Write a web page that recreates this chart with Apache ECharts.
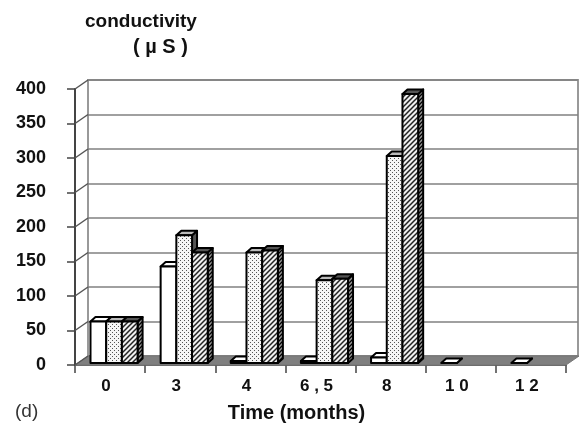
<!DOCTYPE html>
<html><head><meta charset="utf-8">
<style>html,body{margin:0;padding:0;background:#fff}#c{width:586px;height:425px}</style>
<script src="https://cdn.jsdelivr.net/npm/echarts@6/dist/echarts.min.js"></script>
</head><body><div id="c"></div>
<script>
const categories = ['0','3','4','6 , 5','8','1 0','1 2'];
const plainValues  = [60,140,3,3,8,0,0];
const dottedValues = [60,185,160,120,300,null,null];
const hatchedValues= [60,160,163,122,390,null,null];
const yTicks = [0,50,100,150,200,250,300,350,400];

function pat(size,draw){const c=document.createElement('canvas');c.width=c.height=size;const g=c.getContext('2d');draw(g);return {image:c,repeat:'repeat'};}
const dots = pat(4,g=>{g.fillStyle='#f6f6f6';g.fillRect(0,0,4,4);g.fillStyle='#555';g.fillRect(0,0,1,1);g.fillRect(2,2,1,1);});
const hatch = pat(5,g=>{g.fillStyle='#f0f0f0';g.fillRect(0,0,5,5);g.strokeStyle='#222';g.lineWidth=1.5;g.beginPath();g.moveTo(-1,6);g.lineTo(6,-1);g.moveTo(-1,1);g.lineTo(1,-1);g.moveTo(4,6);g.lineTo(6,4);g.stroke();});
const hatchDark = pat(4,g=>{g.fillStyle='#999';g.fillRect(0,0,4,4);g.strokeStyle='#000';g.lineWidth=1.3;g.beginPath();g.moveTo(-1,5);g.lineTo(5,-1);g.moveTo(-1,1);g.lineTo(1,-1);g.moveTo(3,5);g.lineTo(5,3);g.stroke();});

const DX=13,DY=-9,BW=15.7,BD=5,BH=-4.5,START=15.5;
function barItem(idx,front,top,side){
  return (params,api)=>{
    const v=api.value(1); if(v==null||isNaN(v)) return;
    const c=api.coord([api.value(0),v]), o=api.coord([api.value(0),0]);
    const band=api.size([1,0])[0];
    const x=c[0]-band/2+START+idx*BW, y=c[1]-2, b=o[1]-2;
    const st=(f)=>({fill:f,stroke:'#000',lineWidth:2,lineJoin:'round'});
    const kids=[];
    kids.push({type:'polygon',shape:{points:[[x+BW,y],[x+BW+BD,y+BH],[x+BW+BD,b+BH],[x+BW,b]]},style:st(side)});
    kids.push({type:'polygon',shape:{points:[[x,y],[x+BD,y+BH],[x+BW+BD,y+BH],[x+BW,y]]},style:st(top)});
    if(b-y>0.5) kids.push({type:'rect',shape:{x:x,y:y,width:BW,height:b-y},style:st(front)});
    return {type:'group',children:kids};
  };
}
const font='Liberation Sans';
const option={
  animation:false,
  backgroundColor:'#fff',
  textStyle:{fontFamily:font},
  title:[
    {text:'conductivity',left:85,top:12,padding:0,textStyle:{fontFamily:font,fontSize:19,fontWeight:'bold',color:'#111'}},
    {text:'( µ S )',left:133,top:37,padding:0,textStyle:{fontFamily:font,fontSize:20,fontWeight:'bold',color:'#111'}},
    {text:'(d)',left:15,top:402,padding:0,textStyle:{fontFamily:font,fontSize:19,fontWeight:'normal',color:'#333'}}
  ],
  grid:[
    {left:75,width:491,top:89,height:276,containLabel:false,outerBoundsMode:'none'},
    {left:88,width:490,top:80,height:276,show:true,borderColor:'#999',borderWidth:2,backgroundColor:'#fff',outerBoundsMode:'none'}
  ],
  xAxis:[
    {type:'category',gridIndex:0,data:categories,name:'Time (months)',nameLocation:'middle',nameGap:38,
     nameTextStyle:{fontSize:20,fontWeight:'bold',color:'#111',fontFamily:font,padding:[0,48,0,0]},
     axisLine:{lineStyle:{color:'#333',width:1.5}},axisTick:{show:true,length:8,alignWithLabel:false,lineStyle:{color:'#444',width:1.5}},
     axisLabel:{fontSize:17,fontWeight:'bold',color:'#111',margin:13,interval:0,padding:[0,8,0,0],fontFamily:font}},
    {type:'category',gridIndex:1,data:categories,show:false}
  ],
  yAxis:[
    {type:'value',gridIndex:0,min:0,max:400,interval:50,splitLine:{show:false},
     axisLine:{show:true,lineStyle:{color:'#444',width:2}},axisTick:{show:true,length:8,lineStyle:{color:'#444',width:1.5}},
     axisLabel:{fontSize:18,fontWeight:'bold',color:'#111',margin:29,fontFamily:font}},
    {type:'value',gridIndex:1,min:0,max:400,interval:50,axisLabel:{show:false},axisTick:{show:false},axisLine:{show:false},
     splitLine:{lineStyle:{color:'#808080',width:1.5}}}
  ],
  series:[
    {type:'custom',name:'floor',xAxisIndex:0,yAxisIndex:0,z:2,silent:true,clip:false,data:[[0,0]],
     renderItem:(p,api)=>{
       const o=api.coord([0,0]),band=api.size([1,0])[0];
       const l=o[0]-band/2,r=l+band*categories.length;
       return {type:'polygon',shape:{points:[[l,o[1]],[l+DX,o[1]+DY],[r+DX,o[1]+DY],[r,o[1]]]},style:{fill:'#7f7f7f',stroke:'#777'}};
     }},
    {type:'custom',name:'side',xAxisIndex:0,yAxisIndex:0,z:2,silent:true,clip:false,data:yTicks.map(v=>[0,v]),
     renderItem:(p,api)=>{
       const c=api.coord([0,api.value(1)]),band=api.size([1,0])[0];
       const l=c[0]-band/2;
       return {type:'line',shape:{x1:l,y1:c[1],x2:l+DX,y2:c[1]+DY},style:{stroke:'#555',lineWidth:1.5}};
     }},
    {type:'custom',name:'A',xAxisIndex:0,yAxisIndex:0,z:3,clip:false,data:plainValues.map((v,i)=>[i,v]),renderItem:barItem(0,'#fff','#fff','#111')},
    {type:'custom',name:'B',xAxisIndex:0,yAxisIndex:0,z:4,clip:false,data:dottedValues.map((v,i)=>[i,v]),renderItem:barItem(1,dots,'#bbb','#555')},
    {type:'custom',name:'C',xAxisIndex:0,yAxisIndex:0,z:5,clip:false,data:hatchedValues.map((v,i)=>[i,v]),renderItem:barItem(2,hatch,'#555',hatchDark)}
  ]
};
const chart=echarts.init(document.getElementById('c'),null,{renderer:'canvas'});
chart.setOption(option);
</script></body></html>
